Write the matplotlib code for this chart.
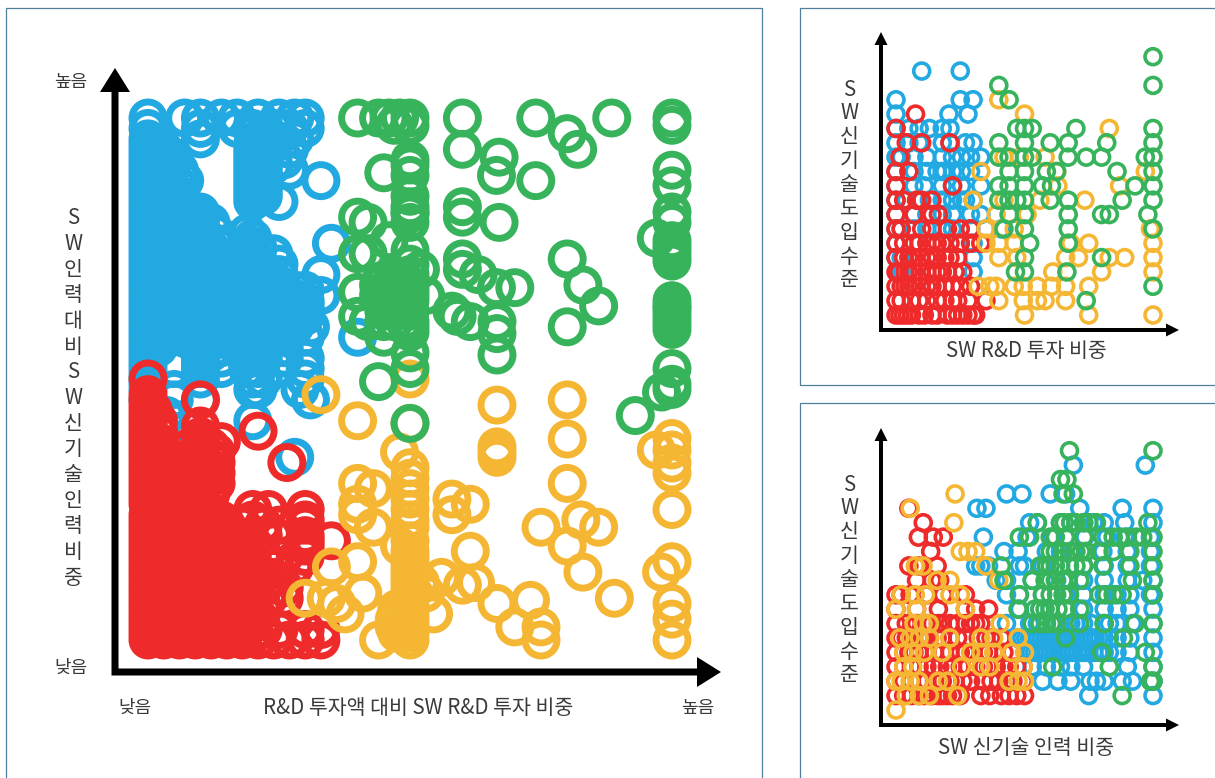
import matplotlib
matplotlib.use("Agg")
import matplotlib.pyplot as plt
from matplotlib.patches import Polygon, Rectangle

plt.rcParams['font.family'] = ['Noto Sans CJK KR', 'DejaVu Sans']

W, H = 1215, 778
BLUE, RED, YELLOW, GREEN = '#22A9E1', '#EE2A2B', '#F5B733', '#37B35C'
TEXT = '#3a3a3a'
FRAME = '#4f7f9f'

# ---- main chart: investment share vs new-tech staff share, rows {y: [x, ...]}
main_blue = {
    100: [0, 7, 10, 14, 17, 21, 25, 28, 30], 98: [0, 10, 17, 20, 24, 27, 30], 97: [20, 22], 96: [0, 10, 24, 28],
    95: [0, 2, 20, 22, 24], 94: [0, 3, 20, 22, 27], 93: [0, 2, 4, 20, 22], 92: [0, 3, 5, 20, 22, 26], 91: [0, 2, 4, 20, 22, 24], 90: [0, 3, 6, 20, 22, 27],
    89: [0, 2, 4, 20, 22], 88: [0, 2, 7, 20, 22, 33], 87: [0, 2, 4, 6, 20, 22], 86: [0, 2, 5, 20, 22], 85: [0, 2, 4, 6, 20, 22], 84: [0, 2, 5, 20, 25],
    83: [0, 2, 4, 6], 82: [0, 2, 4, 10], 81: [0, 2, 4, 6, 8, 10], 80: [0, 3, 10, 12], 79: [0, 2, 4, 6, 8, 10],
    78: [0, 3, 10, 13, 19], 77: [0, 2, 4, 6, 8, 10, 20], 76: [0, 3, 10, 13, 19, 35], 75: [0, 2, 4, 6, 8, 10, 12, 19, 21],
    74: [0, 3, 8, 12, 19, 24], 73: [0, 2, 4, 6, 8, 10, 12, 14, 16, 18, 20], 72: [0, 3, 10, 16, 20, 25],
    71: [0, 2, 4, 6, 8, 10, 12, 14, 16, 18, 20, 22], 70: [0, 3, 10, 15, 20, 25, 33],
    69: [0, 2, 4, 6, 8, 10, 12, 14, 16, 18, 20, 22, 24], 68: [0, 3, 8, 14, 19, 25],
    67: [0, 2, 4, 6, 8, 10, 12, 14, 16, 18, 20, 22, 24, 26, 28, 30], 66: [0, 3, 9, 15, 20, 25, 27, 33],
    65: [0, 2, 4, 6, 8, 10, 12, 14, 16, 18, 20, 22, 24, 26, 28, 30], 64: [0, 3, 10, 13, 20, 25, 30],
    63: [0, 2, 4, 6, 8, 10, 12, 14, 16, 18, 20, 22, 24, 26, 28, 30], 62: [0, 3, 10, 17, 21, 25, 30],
    61: [0, 2, 4, 6, 8, 10, 12, 14, 16, 18, 20, 22, 24, 26, 28], 60: [0, 3, 10, 14, 20, 25, 28, 31],
    59: [0, 2, 4, 6, 8, 10, 12, 14, 18, 20, 22, 24, 26], 58: [0, 3, 10, 14, 19, 25, 30, 40],
    57: [0, 2, 10, 12, 20, 22], 56: [0, 2, 10, 14, 20, 26], 55: [0, 10, 12, 20], 54: [0, 10, 14, 19, 22, 26, 30],
    53: [0, 10], 52: [0, 5, 10, 14, 19, 21, 25, 30], 51: [0], 50: [0, 10, 20, 22, 30], 49: [0], 48: [0, 5, 20, 21, 29], 46: [0, 5, 10, 31],
    43: [3.6], 42: [20], 36: [5], 35: [28],
}
main_red = {
    50: [0], 47: [0], 46: [0, 10], 45: [0], 44: [0, 1], 43: [0], 42: [0, 2], 41: [0, 10], 40: [0, 2, 21], 39: [0, 10],
    38: [0, 2, 10, 14], 37: [0, 2, 8, 10, 12], 36: [0, 3, 10, 13], 35: [0, 2, 8, 10, 12], 34: [0, 3, 10, 13, 26.5],
    33: [0, 2, 4, 6, 8, 10, 12], 32: [0, 3, 8, 11, 13], 31: [0, 2, 4, 6, 8, 10, 12], 30: [0, 3, 7, 10, 13],
    29: [0, 2, 4, 6, 8, 10, 12], 28: [0, 3, 7, 10, 12], 27: [0, 2, 4, 6, 8, 10], 26: [0, 3, 6, 10], 25: [20, 23, 30],
    24: [0, 2, 4, 6, 8, 10, 12], 23: [0, 3, 7, 10, 14, 20, 30], 22: [0, 5, 10, 15, 18, 22, 25, 30],
    21: [0, 2, 4, 6, 8, 10, 12, 14], 20: [0, 3, 7, 10, 14, 17, 22, 24, 30], 19: [0, 2, 4, 6, 8, 10, 12, 14, 30, 35],
    18: [0, 5, 10, 15, 20, 30], 17: [0, 2, 4, 6, 8, 10, 12, 14, 16], 16: [0, 3, 7, 10, 13, 18, 22, 26, 30],
    15: [0, 2, 4, 6, 8, 10, 12, 14, 16, 18], 14: [0, 4, 8, 12, 16, 20, 24, 28],
    13: [0, 2, 4, 6, 8, 10, 12, 14, 16, 18, 20], 12: [0, 3, 6, 9, 12, 16, 20, 24],
    11: [0, 2, 4, 6, 8, 10, 12, 14, 16, 18, 20], 10: [0, 3, 7, 10, 14, 18, 22, 26],
    9: [0, 2, 4, 6, 8, 10, 12, 14, 16, 18, 20], 8: [0, 4, 8, 10, 15, 18, 23, 26],
    7: [0, 2, 4, 6, 8, 10, 12, 14, 16, 18, 20], 6: [0, 3, 6, 10, 14, 18, 22],
    5: [0, 2, 4, 6, 8, 10, 12, 14, 16, 18, 20], 4: [0, 3, 6, 9, 13, 17, 20],
    3: [0, 2, 4, 6, 8, 10, 12, 14, 16, 18, 20], 2: [0, 3, 7, 10, 14, 18, 22, 25, 30, 33],
    1: [0, 2, 4, 6, 8, 10, 12, 14, 16, 18, 20], 0: [0, 3, 6, 9, 12, 15, 18, 21, 24, 27, 30, 33],
}
main_yellow = {
    50: [50], 47: [33], 46: [80], 45: [66.6], 42: [40], 41.5: [50], 38.6: [100], 38.5: [80], 37: [66.6], 36.4: [97, 100],
    36: [48, 66.6], 35: [66.6], 33.9: [100], 33: [50], 32: [100], 31: [50], 30: [40, 80], 29: [43, 50], 27: [50, 58],
    26: [40, 61.5], 25: [50, 100], 24: [40, 58], 23: [50, 82.6], 21.6: [43, 50, 75, 86], 19: [50], 18: [48, 80],
    17: [50, 61.5], 16: [50], 15: [40, 50, 100], 14: [35, 50], 13: [50, 83, 98], 12: [50, 56], 11: [50, 52, 62.5],
    10.5: [60], 10: [50], 9: [41, 50, 53], 8: [30, 34, 50, 89], 7.6: [73], 7: [36, 50, 66.6, 100], 6: [47.5, 50],
    5: [37.6, 47.5, 50, 54.5], 4: [47, 50, 100], 3: [47.5, 50], 2.5: [47, 70, 75], 2: [50], 1.3: [47.5, 50], 0: [44, 50, 75, 100],
}
main_green = {
    100: [40, 44, 46, 48, 50, 60, 74, 88.5, 100], 98.6: [47, 50, 100], 97: [80], 94: [60, 82], 92.5: [67], 92: [50],
    91: [50], 90: [100], 89.5: [45], 89: [50, 66.5], 88: [74], 87: [100], 85: [50], 83: [60, 50], 82: [100, 50], 81.6: [50],
    81: [40, 60], 80: [42, 50, 67, 100], 77: [97], 76.5: [46, 100], 75.5: [100], 74.6: [50, 100], 74: [40, 42], 73.5: [100],
    73: [60, 80], 72.6: [100], 72: [50], 71: [52, 60], 70: [47, 50, 63], 69: [45, 47, 49], 68: [44, 50, 83],
    67.5: [66.5, 70], 67: [45, 47, 49, 50], 66.6: [40], 66: [44, 50, 53], 65: [45, 47, 49, 50, 100], 64: [86, 100],
    63.5: [100], 63: [45, 47, 49, 50, 58], 62.5: [100], 62: [40, 59], 61.5: [100], 61: [42, 45, 47, 49, 50, 61.5, 66.6],
    60.5: [100], 60: [80, 50], 59.5: [100], 59: [50], 58.7: [66.6], 58: [45], 55: [50], 54.6: [66.6], 52: [50, 100], 49.5: [44],
    49: [100], 48: [100], 47.5: [98], 43: [93], 41.5: [50],
}

# ---- upper right: R&D share vs adoption level
top_blue = {
    17: [10, 25], 15: [0, 25, 30], 14: [0, 20.6, 28], 13: [0, 5, 9, 13, 18, 21], 12: [0, 5, 9, 18, 21, 27, 30],
    11: [0, 2, 7, 12, 18, 22, 25.5, 29, 33], 10: [0, 7, 12, 16, 18, 19, 22, 25.5, 29], 9: [0, 7, 11, 18, 22, 25.5, 33],
    8: [0, 4, 9, 13, 18, 22, 25.5, 27, 30], 7: [0, 7, 12, 18, 22, 29, 33], 6: [0, 2, 7, 12, 18, 22, 29, 35, 41],
    5: [0, 25, 30], 4: [0, 2, 30], 3: [2, 30],
}
top_red = {
    14: [7.6], 13: [0], 12: [4, 10, 21], 11: [1.5], 10: [0, 5], 9: [0, 22], 8: [0, 3, 8, 10, 14], 7: [0, 7, 14, 16.5],
    6: [0, 2, 10, 14, 20, 25, 29], 5: [0, 3, 7, 9, 12, 14, 16, 18, 21, 25, 29, 33], 4: [0, 3, 5, 7, 9.5, 12, 14, 16, 19, 21, 24],
    3: [0, 1, 3.5, 5, 7, 9.5, 12, 14, 16, 18, 20, 23, 26], 2: [0, 2, 3.5, 5, 7, 9.5, 12, 14, 16, 19, 22, 25, 29],
    1: [0, 2, 6, 9, 12, 16, 19, 22, 24, 28, 35], 0: [0, 1.5, 3, 4.5, 6, 9, 11, 14, 16, 20, 22, 24, 26, 28, 30, 31],
}
top_yellow = {
    15: [40], 14: [50], 13: [83], 11: [42, 48, 58], 10: [33, 62.5, 97], 9: [63, 87], 8: [30, 42, 56, 73.5], 7: [39, 51],
    6: [35, 46, 99], 5: [35, 40, 46, 68, 75, 100], 4: [40, 47, 66, 71, 83, 89, 100], 3: [61, 80, 100],
    2: [32, 36.5, 39, 46, 49.5, 55, 60.5, 66, 75], 1: [40, 49.5, 55, 58, 66], 0: [50, 75, 100],
}
top_green = {
    18: [100], 16: [40, 100], 15: [44], 13: [47, 50, 53, 70, 100], 12: [40, 50, 60, 67, 82, 100],
    11: [40, 44, 50, 53, 67, 74, 80, 97, 100], 10: [44, 50, 58.5, 62.5, 86, 100], 9: [40, 44, 50, 57, 60.5, 93, 100],
    8: [40, 44, 47, 50, 60, 67, 88, 100], 7: [44, 50, 67, 80, 83, 98], 6: [42, 50, 67, 100], 5: [52, 67], 4: [50, 80],
    3: [46.5, 50, 66.5], 2: [100], 1: [74],
}

# ---- lower right: new-tech staff share vs adoption level
low_blue = {
    17: [69, 97], 15: [43, 49, 60, 66], 14: [31.5, 35, 71.5, 88, 100], 13: [52, 55, 64, 68, 73, 77, 81, 89, 100],
    12: [34, 51, 61, 66, 73.5, 82, 89, 99], 11: [42, 47.5, 58.5, 64, 69, 74, 80.5, 90, 99],
    10: [31, 33, 36, 48, 50, 57, 64, 73, 81, 90, 99], 9: [39, 43, 53, 62.5, 73, 81, 90, 96, 100],
    8: [43, 48, 57, 66, 73, 81, 86, 91, 99, 100], 7: [48, 56, 60, 66, 73, 81, 86, 91, 100],
    6: [43, 52, 55, 58.5, 61, 64, 68, 70, 73, 76, 81, 83, 86, 92, 100],
    5: [47, 49, 50.5, 52, 53.5, 55, 56.5, 58, 59.5, 61, 62.5, 64, 65.5, 67, 68.5, 70, 71.5, 73, 74.5, 76, 77.5, 79, 81, 83, 86, 91, 100],
    4: [51, 52.5, 54, 55.5, 57, 58.5, 60, 61.5, 63, 64.5, 66, 67.5, 69, 70.5, 72, 73.5, 75, 77, 79, 81, 83, 86, 91, 100],
    3: [53, 58.5, 64, 68, 73, 90, 100], 2: [57, 63, 68, 75.5, 78, 81, 88, 92, 100], 1: [75, 100],
}
low_red = {
    14: [5], 13: [10.6], 12: [8.7, 14.5, 18.4], 11: [13.5], 10: [5, 9, 16], 9: [8, 14, 17], 8: [0, 2, 5.5, 12, 18.4, 27],
    7: [0, 8, 16.5, 27, 31, 36], 6: [0, 4, 8, 12, 14, 16.5, 18, 21, 24, 27, 29, 31, 33],
    5: [0, 2, 4, 6, 9, 11, 13, 16, 18, 21, 24, 27, 32, 35, 37, 41],
    4: [0, 3, 5, 7, 9, 12, 15, 18, 21, 25, 27, 30, 34, 36, 39, 42, 45],
    3: [0, 3, 6, 9, 12, 14.5, 17, 20, 22, 25, 28, 31, 34, 36, 39, 42, 44, 47, 49.5],
    2: [0, 3, 6, 9, 12, 15, 18, 21, 23, 26, 29, 34, 37, 40, 43, 45.5, 49.5],
    1: [0, 3, 6, 9, 11, 14, 16.5, 18, 20, 22, 25, 33, 36.5, 41, 44, 47, 50],
}
low_yellow = {
    15: [23], 14: [5.5], 13: [22.5], 11: [25, 28, 31], 10: [7.5, 10.5, 35], 9: [16, 21, 40], 8: [2, 7.5, 11.5, 21, 25],
    7: [0, 8, 27], 6: [7, 10.5, 13, 40.5], 5: [1.5, 5.5, 9, 13, 21, 33, 38, 47.5], 4: [3, 6.5, 11, 18, 29, 33, 38, 45, 50],
    3: [3, 6.5, 25.5, 33, 36.5, 49.5], 2: [0, 2, 5.5, 9, 16.5, 20, 44, 47.5, 50], 1: [4, 9, 13, 24], 0: [0],
}
low_green = {
    18: [67.5, 100], 16: [64, 66.5], 15: [65, 69], 13: [55, 64, 65.5, 68, 70, 73, 75, 78, 98],
    12: [48, 52, 60, 62, 66, 73, 80.5, 84.5, 87, 90, 93.5, 96, 100], 11: [60, 62, 65, 67.5, 70, 72, 74, 79, 84.5, 91, 100],
    10: [41, 56, 58.5, 60, 62, 64, 67.5, 70, 73, 80.5, 91, 100], 9: [42, 53, 58, 60, 62, 65, 67, 71.5, 92, 100],
    8: [48, 57, 60, 62.5, 65, 67.5, 79, 82, 84.5, 88, 100], 7: [47.5, 54, 56, 58, 60, 63, 66, 71.5],
    6: [53, 56, 58.5, 60.5, 62.5, 71.5, 81, 93, 100], 5: [66, 88.5], 4: [80, 97], 3: [61, 83, 100], 2: [99, 100], 1: [88],
}

main_ylabel = "S\nW\n인\n력\n대\n비\nS\nW\n신\n기\n술\n인\n력\n비\n중"
side_ylabel = "S\nW\n신\n기\n술\n도\n입\n수\n준"
main_xlabel = "R&D 투자액 대비 SW R&D 투자 비중"
top_xlabel = "SW R&D 투자 비중"
low_xlabel = "SW 신기술 인력 비중"
low_tick, high_tick = "낮음", "높음"

fig = plt.figure(figsize=(W / 100, H / 100), dpi=100, facecolor='white')


def fx(px):
    return px / W


def fy(py):
    return 1 - py / H


def panel(x0, y0, x1, y1):
    fig.add_artist(Rectangle((fx(x0), fy(y1)), fx(x1) - fx(x0), fy(y0) - fy(y1), transform=fig.transFigure,
                             fill=False, ec=FRAME, lw=0.9, clip_on=False))


def arrow_axes(xv, yh, ytop, xright, lw, head_len, head_half):
    v = [(xv - lw / 2, yh + lw / 2), (xv - lw / 2, ytop + head_len), (xv - head_half, ytop + head_len), (xv, ytop),
         (xv + head_half, ytop + head_len), (xv + lw / 2, ytop + head_len), (xv + lw / 2, yh - lw / 2),
         (xright - head_len, yh - lw / 2), (xright - head_len, yh - head_half), (xright, yh),
         (xright - head_len, yh + head_half), (xright - head_len, yh + lw / 2)]
    fig.add_artist(Polygon([(fx(a), fy(b)) for a, b in v], closed=True, transform=fig.transFigure, fc='black', ec='none'))


def rings(ax, rows, color, size, lw):
    xs = [x for y, row in rows.items() for x in row]
    ys = [y for y, row in rows.items() for _ in row]
    ax.scatter(xs, ys, s=size, facecolors='none', edgecolors=color, linewidths=lw, clip_on=False)


def chart(x0, x1, ybottom, ytop, ymax, series, size, lw):
    ax = fig.add_axes([fx(x0), fy(ybottom), fx(x1) - fx(x0), fy(ytop) - fy(ybottom)])
    ax.set_xlim(0, 100)
    ax.set_ylim(0, ymax)
    ax.axis('off')
    for rows, color in zip(series, (BLUE, RED, YELLOW, GREEN)):
        rings(ax, rows, color, size, lw)
    return ax


panel(5.5, 8, 762, 800)
panel(800, 8, 1230, 385)
panel(800, 403, 1230, 800)

chart(148, 672, 640, 118, 100, (main_blue, main_red, main_yellow, main_green), 530, 5.0)
chart(896, 1153, 315, 56.7, 18, (top_blue, top_red, top_yellow, top_green), 132, 2.6)
chart(896, 1153, 710, 450.7, 18, (low_blue, low_red, low_yellow, low_green), 132, 2.6)

arrow_axes(115, 672, 68, 721, 7, 24, 15)
arrow_axes(881, 330, 32, 1179, 4, 13, 6.5)
arrow_axes(881, 725, 428, 1179, 4, 13, 6.5)


def label(px, py, s, size, **kw):
    fig.text(fx(px), fy(py), s, fontsize=size, color=TEXT, ha='center', va='center', **kw)


label(71, 82, high_tick, 13)
label(71, 667.5, low_tick, 13)
label(135, 708, low_tick, 13)
label(698, 708, high_tick, 13)
label(418, 708.5, main_xlabel, 14.8)
label(1026, 351.5, top_xlabel, 14.8)
label(1026, 747.5, low_xlabel, 14.8)
label(73, 398, main_ylabel, 14.8, linespacing=1.217, multialignment='center')
label(849, 185, side_ylabel, 14.8, linespacing=1.11, multialignment='center')
label(849, 580, side_ylabel, 14.8, linespacing=1.11, multialignment='center')

fig.savefig('out.png', dpi=100)
